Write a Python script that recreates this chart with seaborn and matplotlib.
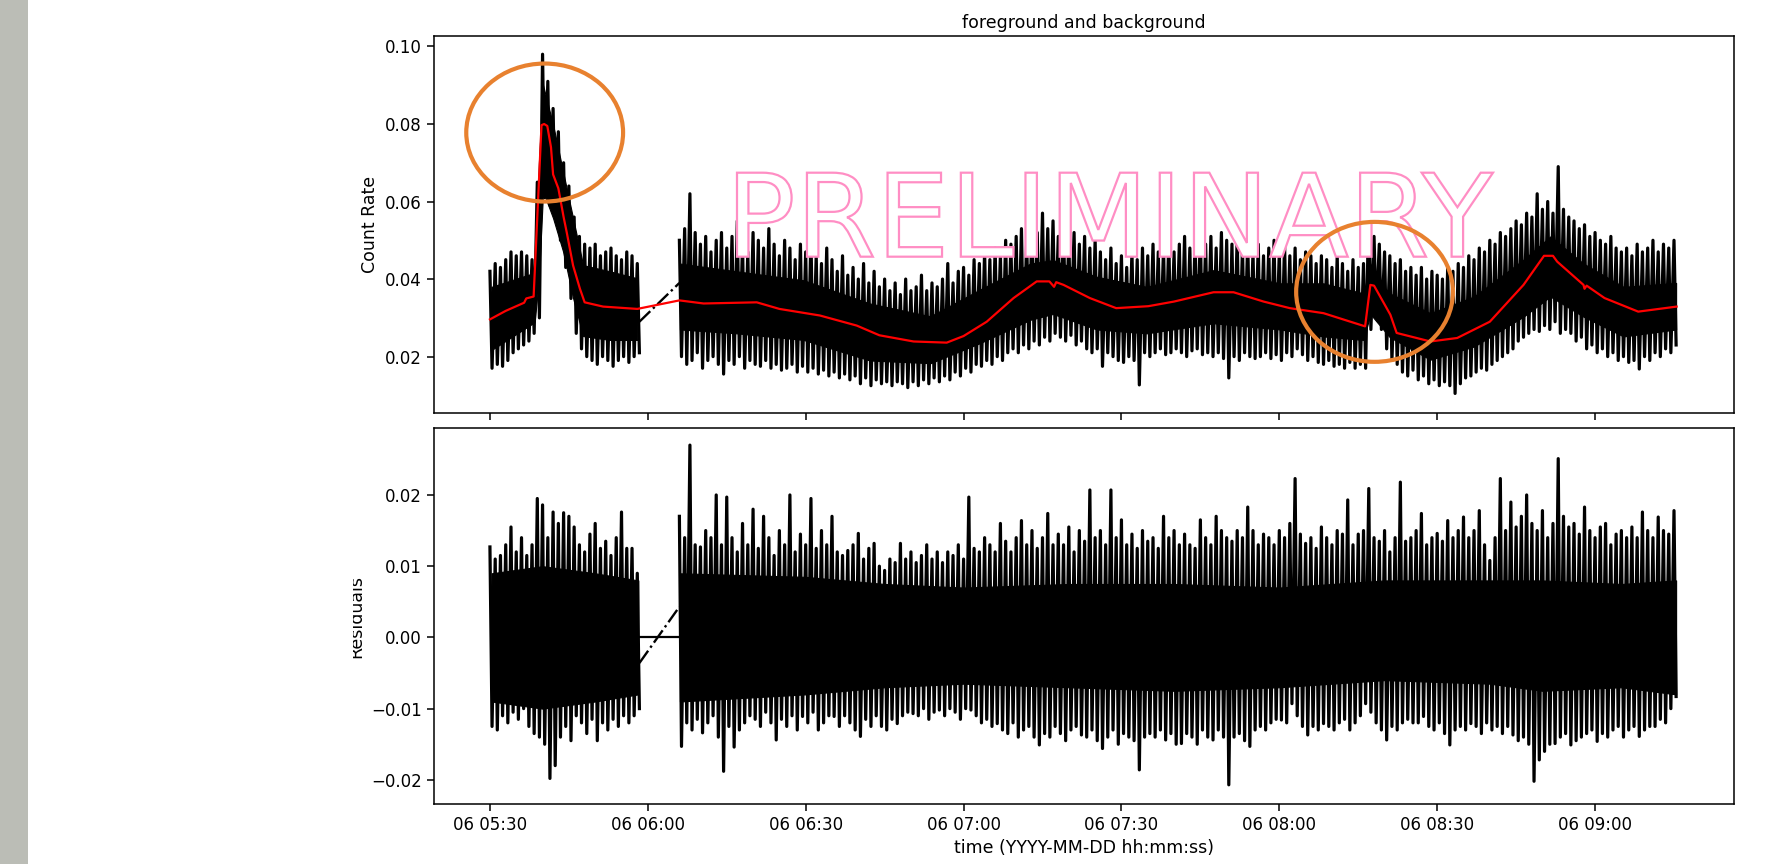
import numpy as np
import pandas as pd
import seaborn as sns
import matplotlib.pyplot as plt
import matplotlib.dates as mdates
from matplotlib.patches import Ellipse, PathPatch, Rectangle
from matplotlib.textpath import TextPath
from matplotlib.font_manager import FontProperties
from matplotlib.transforms import Affine2D, Bbox, TransformedBbox

start = pd.Timestamp('2023-06-06 05:30:00')

# minutes after 05:30 of the two data stretches (no data 05:58 - 06:06)
minutes_1 = np.arange(0, 29)
minutes_2 = np.arange(36, 226)

# count rate, upper / lower extent of the spikes per minute (units of 1e-3)
rate_hi_1 = [42, 44, 43, 45, 47, 46, 47, 46, 45, 65, 98, 91, 84, 78, 70, 64, 56, 51, 49,
             48, 49, 46, 47, 48, 46, 45, 47, 46, 44]
rate_lo_1 = [17, 18, 17.5, 19, 21, 22, 23, 24, 26, 30, 61, 59, 56, 50, 43, 35, 26, 22, 20,
             19, 18, 20, 19, 17.5, 19, 20, 18.5, 20, 21]
rate_hi_2 = [50, 53, 62, 52, 49, 51, 47, 50, 52, 48,
             51, 55, 49, 47, 52, 50, 48, 53, 49, 46,
             50, 48, 45, 49, 47, 51, 46, 44, 48, 45,
             42, 46, 41, 43, 40, 44, 39, 42, 38, 40,
             37, 39, 36, 40, 37, 38, 41, 37, 39, 38,
             40, 44, 39, 42, 43, 41, 45, 44, 47, 45,
             48, 46, 50, 49, 51, 53, 50, 54, 52, 57,
             53, 55, 51, 54, 50, 52, 49, 51, 48, 50,
             47, 45, 48, 44, 46, 43, 47, 45, 48, 46,
             49, 47, 48, 50, 47, 49, 51, 48, 50, 52,
             49, 51, 48, 52, 50, 49, 51, 48, 50, 47,
             49, 46, 48, 50, 47, 49, 46, 48, 45, 47,
             46, 44, 46, 45, 43, 46, 44, 42, 45, 43,
             44, 59, 51, 49, 47, 46, 44, 45, 42, 43,
             41, 43, 40, 42, 41, 40, 43, 42, 44, 43,
             46, 45, 48, 47, 50, 49, 52, 51, 53, 55,
             54, 57, 56, 62, 58, 60, 57, 69, 58, 56,
             55, 53, 54, 51, 52, 50, 49, 51, 48, 47,
             48, 46, 49, 47, 48, 50, 47, 49, 48, 50]
rate_lo_2 = [20, 18, 19, 21, 17, 19, 20, 18, 15.5, 19,
             18, 20, 17, 19, 18, 17.5, 19, 17, 18, 16.5,
             17, 18, 16, 17.5, 16, 17, 15.5, 16.5, 15, 16,
             14.5, 15.5, 14, 15, 13, 14.5, 12.5, 14, 13, 13.5,
             12.5, 13.5, 13, 12, 13.5, 12.5, 14, 13, 14.5, 13.5,
             15, 14, 16, 15, 17, 16, 18, 17.5, 19, 18,
             20, 19, 21, 22, 21, 23, 22, 24, 23, 25,
             24, 26, 25, 24, 25.5, 23, 24, 22, 21, 22,
             17.5, 21, 20, 19, 18.5, 20, 19, 12.7, 21, 20,
             21, 22, 20.5, 21, 22, 21, 20, 21.5, 22, 20.5,
             21, 20, 21, 19.5, 14.5, 20, 19, 21, 20, 19.5,
             20, 21, 19.5, 20.5, 19, 21, 20, 22, 20.5, 19,
             20, 18.5, 18, 19, 17.5, 18, 17, 18.5, 17, 18,
             17, 27, 30, 27, 22, 19, 18, 16, 15, 16.5,
             14, 15, 13, 14, 12.5, 13.5, 12.5, 10.5, 13, 14.5,
             15, 16, 17, 16.5, 18, 19, 20, 21, 22, 24,
             25, 26, 27, 26.5, 28, 27, 29, 26, 27, 26,
             24, 25, 22, 23, 21, 22, 20, 21, 19, 20,
             18.5, 19, 16.8, 20, 19, 21, 20, 22, 21, 23]

# dense (solid) part of the count rate band (units of 1e-3)
rate_core_minutes_1 = [0.3, 8.2, 8.5, 9.3, 10.1, 12.0, 13.9, 15.8, 17.7, 22.8, 28.0]
rate_core_hi_1 = [38, 41.5, 42, 70, 90, 79.8, 67.7, 55.7, 43.6, 42, 40.2]
rate_core_lo_1 = [21.7, 28.6, 29, 40, 62.6, 55.7, 47.1, 35.1, 25.3, 24.3, 24.3]
rate_core_minutes_2 = [36.1, 46.9, 59.6, 72.2, 83.7, 93.0, 102.7, 107.0, 115.3, 124.8,
                       137.5, 150.2, 158.4, 166.0, 167.3, 168.5, 171.0, 178.7, 187.0,
                       196.4, 201.5, 207.8, 215.4, 225.4]
rate_core_hi_2 = [44, 42, 39.7, 33.7, 30.4, 37.2, 44, 44.9, 40.6, 38, 42.3, 38.9, 38.9,
                  36.3, 44, 40, 36.3, 31.2, 35.5, 45, 51, 44, 38, 39]
rate_core_lo_2 = [27, 26, 24.3, 19, 18.3, 23.4, 29.5, 31, 27, 26, 28.6, 27, 25.2, 24.3,
                  31, 29, 25, 19.2, 22.6, 30.3, 35.5, 30.3, 25.2, 27]

# residuals, upper / lower extent of the spikes per minute (units of 1e-3)
resid_hi_1 = [12.7, 11, 11.5, 13, 15.5, 12, 14, 11.5, 13, 19.5, 18.6, 14, 17.6, 16, 17.5,
              17, 15.5, 13, 12, 14.5, 16, 12.5, 13.5, 11.5, 14, 17.6, 12.5, 12.5, 9]
resid_lo_1 = [-12.5, -13, -11, -12, -10.5, -11.5, -10, -12.5, -13.5, -14, -15, -19.8, -18,
              -14, -12.5, -14.5, -11, -12, -13.5, -11.5, -14.5, -12, -13, -11.5, -12.5,
              -11, -12, -11, -10]
resid_hi_2 = [17, 14, 27, 13, 12.7, 15, 14, 20, 13, 19.7,
              14, 12, 16, 13, 18, 12.5, 17, 14, 11.5, 15,
              13, 20, 12, 14.5, 13, 19.5, 12.5, 15, 13, 17,
              12, 11.5, 12.2, 13, 14.6, 11, 12.5, 13.2, 10, 9.4,
              11, 10.5, 13.2, 11, 12, 10.5, 11.5, 13, 11, 12,
              10.5, 12, 11.5, 13, 11, 19.7, 12.5, 12, 14, 13,
              12, 16, 13.5, 12, 14, 16.4, 13, 15, 12.5, 14,
              17.4, 13, 14.5, 13, 15.5, 12, 15, 13.5, 20.7, 14,
              15, 13, 20.7, 14, 16.5, 13, 14.5, 12.5, 15, 13.5,
              14, 12.5, 17, 14, 15, 13, 14.5, 13, 12.5, 16.5,
              14, 13, 17, 15, 14, 13.5, 15, 14, 18.3, 15,
              13, 14.5, 14, 13, 15, 14, 16, 22.3, 14.5, 13.2,
              14, 12.5, 15.5, 14, 13, 15, 14.5, 19.3, 13, 14.5,
              15, 20.9, 14, 13.5, 15, 12, 14, 21.8, 13.5, 14,
              15, 17.4, 13, 14, 14.6, 13.5, 16.4, 14, 15, 16.9,
              14, 15, 17.8, 13, 10.8, 14, 22.3, 15, 19, 15.5,
              17, 20, 16, 15, 17.8, 14, 16, 25.1, 17, 15.5,
              16, 14.5, 18.3, 15, 14, 15.5, 16, 13, 14.5, 15,
              14, 15.5, 14, 17.6, 15, 14, 16.9, 15, 14.5, 17.8]
resid_lo_2 = [-15.3, -12, -13, -11.5, -13.4, -12, -11, -14, -18.8, -12.5,
              -15.4, -13, -12, -11, -11.5, -12.5, -10.5, -12, -14.4, -11.5,
              -12.5, -11, -13, -11.1, -12, -10.5, -13, -12, -11, -11.1,
              -12.5, -11, -12, -13, -13.9, -11.5, -12.5, -11, -12.5, -13,
              -11.5, -12.1, -11, -10.5, -10.7, -11, -10, -11.5, -10.5, -10.2,
              -11, -10, -10.5, -11.5, -10, -10.2, -11, -12, -11.5, -12.5,
              -12.1, -13, -13.5, -12, -14, -13, -12.5, -14, -15.1, -13.5,
              -14, -12.5, -13.5, -14.5, -13, -12.5, -13.7, -14, -13, -14.5,
              -15.6, -14, -13, -15, -13.5, -14, -14.5, -18.6, -14, -13.5,
              -14, -13, -14.4, -13.5, -15, -14.9, -13.5, -14, -15, -13,
              -14, -14.4, -13, -14, -20.7, -14, -13.5, -14.5, -15.3, -13,
              -12.5, -13, -12, -11.5, -11.6, -12, -9.3, -11, -12.5, -13.7,
              -12.5, -13, -12.1, -12.5, -13, -12, -11.5, -13, -12, -11,
              -9.3, -10.5, -12, -13, -14.4, -12.5, -13, -12, -11.5, -12,
              -12, -11.1, -12.5, -13, -12, -13.5, -15.1, -13, -12.5, -13,
              -12.1, -12.5, -13.5, -12, -13, -12.5, -13.5, -12.5, -13.7, -14.5,
              -14, -15, -20.2, -17.2, -16, -15, -14.9, -14, -13.5, -15.1,
              -14.5, -14, -13.5, -13, -14.6, -13.5, -14, -13, -12.5, -14,
              -13, -12.5, -13.9, -13, -12.5, -12.5, -11.5, -12, -10, -8.3]

# dense (solid) part of the residual band (units of 1e-3)
resid_core_minutes_1 = [0.3, 10.0, 20.0, 28.2]
resid_core_hi_1 = [9, 10, 9, 8]
resid_core_lo_1 = [-9, -10, -9, -8]
resid_core_minutes_2 = [36.1, 60, 75, 90, 110, 130, 150, 170, 190, 200, 215, 225.4]
resid_core_hi_2 = [9, 8.5, 7.5, 7, 7.5, 7.5, 7, 8, 8, 8, 7.5, 8]
resid_core_lo_2 = [-9, -8, -7, -6.5, -7, -7.5, -7, -6, -6.5, -7.5, -7, -8]

# samples either side of the gap, joined dash-dot
gap_minutes = [28.4, 36.0]
gap_rate = [0.029, 0.039]
gap_resid = [-0.0036, 0.0043]
gap_zero = [0.0, 0.0]

# fitted background (red)
bg_minutes = [0, 3, 6.5, 6.9, 8.3, 9.8, 10.3, 10.9, 11.6, 12.0, 13.0, 14.0, 14.6, 15.8,
              17.1, 18.0, 21.5, 28.0, 36.0, 40.6, 50.7, 55.0, 62.7, 69.7, 74.0, 80.5,
              86.8, 90.0, 94.4, 99.5, 103.9, 106.3, 107.2, 107.6, 109.0, 114.0, 119.0,
              125.1, 130.0, 137.5, 141.3, 147.0, 152.0, 158.4, 166.3, 167.3, 168.0,
              171.1, 172.3, 178.7, 183.8, 190.0, 196.4, 200.3, 202.0, 202.8, 207.8,
              208.0, 208.4, 211.8, 218.2, 225.5]
bg_rate = [0.0296, 0.0318, 0.0339, 0.0350, 0.0355, 0.0797, 0.0800, 0.0795, 0.0740, 0.0670,
           0.0634, 0.0560, 0.0520, 0.0435, 0.0375, 0.0340, 0.0329, 0.0323, 0.0345, 0.0337,
           0.0340, 0.0323, 0.0306, 0.0280, 0.0255, 0.0239, 0.0236, 0.0253, 0.0290, 0.0351,
           0.0394, 0.0394, 0.0380, 0.0392, 0.0385, 0.0351, 0.0325, 0.0330, 0.0342, 0.0366,
           0.0366, 0.0342, 0.0325, 0.0312, 0.0278, 0.0385, 0.0383, 0.0308, 0.0261, 0.0239,
           0.0248, 0.0290, 0.0385, 0.0460, 0.0460, 0.0445, 0.0385, 0.0375, 0.0383, 0.0351,
           0.0316, 0.0329]

# hand drawn marks: centre minute, centre rate, width (min), height
circle_minutes = [10.4, 168.1]
circle_rate = [0.0778, 0.0367]
circle_width = [29.8, 29.8]
circle_height = [0.0356, 0.0361]


def zigzag(minutes, hi, lo):
    t = np.column_stack([minutes, minutes + 0.4]).ravel()
    v = np.column_stack([hi, lo]).ravel() / 1000
    return t, v


def to_time(minutes):
    return start + pd.to_timedelta(np.asarray(minutes, dtype=float), unit='min')


def fill_core(ax, minutes, hi, lo):
    ax.fill_between(to_time(minutes), np.asarray(lo) / 1000, np.asarray(hi) / 1000,
                    color='k', lw=0.8)


line_kw = dict(color='k', sort=False, estimator=None)


def draw_band(ax, segments, cores, gap_vals):
    for mins, hi, lo in cores:
        fill_core(ax, mins, hi, lo)
    for mins, hi, lo in segments:
        tt, vv = zigzag(mins, hi, lo)
        sns.lineplot(x=to_time(tt), y=vv, ax=ax, lw=2.3, **line_kw)
    sns.lineplot(x=to_time(gap_minutes), y=gap_vals, ax=ax, lw=1.7, linestyle='-.',
                 **line_kw)


fig = plt.figure(figsize=(17.75, 8.64), dpi=100)
fig.add_artist(Rectangle((0, 0), 28 / 1775, 1, transform=fig.transFigure,
                         color='#bbbdb6', lw=0))

ax_top = fig.add_axes([0.2443, 0.5220, 0.7326, 0.4363])
ax_bot = fig.add_axes([0.2443, 0.0694, 0.7326, 0.4352], sharex=ax_top)

# top: count rate + background
draw_band(ax_top,
          [(minutes_1, rate_hi_1, rate_lo_1), (minutes_2, rate_hi_2, rate_lo_2)],
          [(rate_core_minutes_1, rate_core_hi_1, rate_core_lo_1),
           (rate_core_minutes_2, rate_core_hi_2, rate_core_lo_2)],
          gap_rate)
sns.lineplot(x=to_time(bg_minutes), y=bg_rate, ax=ax_top, color='red', lw=1.6,
             sort=False, estimator=None, zorder=3)

# bottom: residuals
sns.lineplot(x=to_time(gap_minutes), y=gap_zero, ax=ax_bot, lw=1.6, **line_kw)
draw_band(ax_bot,
          [(minutes_1, resid_hi_1, resid_lo_1), (minutes_2, resid_hi_2, resid_lo_2)],
          [(resid_core_minutes_1, resid_core_hi_1, resid_core_lo_1),
           (resid_core_minutes_2, resid_core_hi_2, resid_core_lo_2)],
          gap_resid)

ax_top.set_ylim(0.00545, 0.1027)
ax_bot.set_ylim(-0.0234, 0.0294)
ax_bot.set_xlim(to_time([-10.7])[0], to_time([236.4])[0])
ax_bot.xaxis.set_major_locator(mdates.MinuteLocator(byminute=[0, 30]))
ax_bot.xaxis.set_major_formatter(mdates.DateFormatter('%d %H:%M'))
ax_top.tick_params(labelbottom=False)

for ax in (ax_top, ax_bot):
    ax.tick_params(labelsize=12, length=5, width=1.1)
    for sp in ax.spines.values():
        sp.set_linewidth(1.1)

ax_top.set_title('foreground and background', fontsize=12.5)
ax_top.set_ylabel('Count Rate', fontsize=12.5)
ax_top.set_xlabel('')
ax_bot.set_ylabel('Residuals', fontsize=12.5)
ax_bot.set_xlabel('time (YYYY-MM-DD hh:mm:ss)', fontsize=12.5)

# the residual label is cut at its top in the screenshot
lbl = ax_bot.yaxis.label
lbl.set_clip_box(TransformedBbox(Bbox([[353 / 1775, 0], [1, 1]]), fig.transFigure))
lbl.set_clip_on(True)

# watermark, outlined letters over the data
tp = TextPath((0, 0), 'PRELIMINARY', size=1, prop=FontProperties(family='DejaVu Sans'))
bb = tp.get_extents()
x0, x1 = 737 / 1775, 1493 / 1775
y0, y1 = (864 - 256.7) / 864, (864 - 172.7) / 864
tr = (Affine2D().translate(-bb.x0, -bb.y0)
      .scale((x1 - x0) / bb.width, (y1 - y0) / bb.height)
      .translate(x0, y0) + fig.transFigure)
ax_top.add_artist(PathPatch(tp, transform=tr, facecolor='white', edgecolor='#ff8ec4',
                            lw=1.6, zorder=5, clip_on=False))

for cm, cr, cw, ch in zip(circle_minutes, circle_rate, circle_width, circle_height):
    centre = mdates.date2num(to_time([cm])[0])
    ax_top.add_patch(Ellipse((centre, cr), cw / 1440, ch, fill=False,
                             edgecolor='#e8812f', lw=3, zorder=6))

fig.savefig('out.png', dpi=100)
